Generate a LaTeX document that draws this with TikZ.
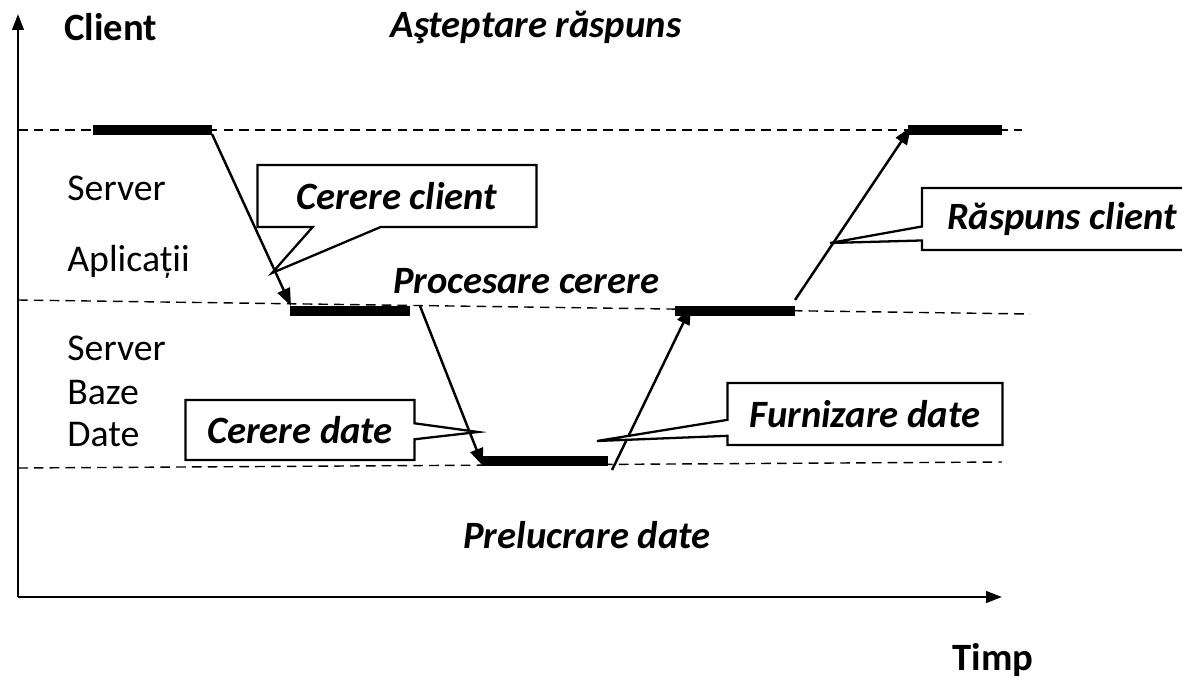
\documentclass[tikz,border=0pt]{standalone}
\usepackage{fontspec}
\setmainfont{Carlito}
\usetikzlibrary{arrows.meta, shapes.callouts, positioning}

\begin{document}
\begin{tikzpicture}[
            x=0.02cm, y=-0.02cm,
            lane/.style={line width=0.8pt, dash pattern=on 5.5pt off 3.5pt},
            busy/.style={line width=6pt},
            msg/.style={-{Triangle[length=10pt, width=7.5pt]}, line width=1.4pt},
            axis/.style={-{Triangle[length=9pt, width=6.5pt]}, line width=1.4pt},
            note/.style={rectangle callout, draw, fill=white, line width=1.3pt,
                inner sep=0pt, font=\fontsize{22}{26}\selectfont\bfseries\itshape},
            lbl/.style={anchor=west, inner sep=0pt, font=\fontsize{21.5}{26}\selectfont},
            ttl/.style={inner sep=0pt, font=\fontsize{22}{26}\selectfont\bfseries\itshape}
        ]
        \clip (0, 0) rectangle (1182, 682);

        % axes
        \coordinate (o) at (18, 597);
        \coordinate (top) at (18, 14);
        \coordinate (right) at (1002, 597);
        \draw[axis] (o) -- (top);
        \draw[axis] (o) -- (right);

        % levels
        \draw[lane] (18, 130) -- (1022, 130);
        \draw[lane] (18, 300) -- (1030, 314);
        \draw[lane] (18, 468) -- (1002, 462);

        % busy periods
        \coordinate (c1a) at (93, 130);  \coordinate (c1b) at (212, 130);
        \coordinate (c2a) at (908, 130); \coordinate (c2b) at (1002, 130);
        \coordinate (a1a) at (290, 311); \coordinate (a1b) at (410, 311);
        \coordinate (a2a) at (675, 311); \coordinate (a2b) at (795, 311);
        \coordinate (d1a) at (483, 461); \coordinate (d1b) at (608, 461);
        \foreach \p in {c1, c2, a1, a2, d1}
            \draw[busy] (\p a) -- (\p b);

        % messages
        \coordinate (m1s) at (212, 134); \coordinate (m1e) at (291, 306);
        \coordinate (m2s) at (420, 306); \coordinate (m2e) at (483, 466);
        \coordinate (m3s) at (612, 470); \coordinate (m3e) at (691, 307);
        \coordinate (m4s) at (795, 300); \coordinate (m4e) at (911, 127);
        \draw[msg] (m1s) -- (m1e);
        \draw[msg] (m2s) -- (m2e);
        \draw[msg] (m3s) -- (m3e);
        \draw[msg] (m4s) -- (m4e);

        % callouts
        \node (cc) at (397, 196)[note, minimum width=5.58cm, minimum height=1.24cm,
            callout absolute pointer={(272, 273)}, callout pointer width=1.36cm] {Cerere client};
        \node (rc) at (1062, 219)[note, minimum width=5.6cm, minimum height=1.24cm,
            callout absolute pointer={(830, 243)}, callout pointer width=0.28cm] {Răspuns client\hspace{0.56cm}};
        \node (cd) at (300, 430)[note, minimum width=4.58cm, minimum height=1.2cm,
            callout absolute pointer={(478, 432)}, callout pointer width=0.32cm] {Cerere date};
        \node (fd) at (865, 414)[note, minimum width=5.5cm, minimum height=1.24cm,
            callout absolute pointer={(597, 441)}, callout pointer width=0.32cm] {Furnizare date};

        % labels
        \node (client) at (64, 27)[lbl, font=\fontsize{22}{26}\selectfont\bfseries] {Client};
        \node (wait) at (536, 27)[ttl] {Aşteptare răspuns};
        \node (srv1) at (67, 188)[lbl] {Server};
        \node (app) at (67, 262)[lbl] {Aplicații};
        \node (srv2) at (67, 348)[lbl] {Server};
        \node (baze) at (67, 393)[lbl] {Baze};
        \node (date) at (67, 435)[lbl] {Date};
        \node (proc) at (526, 281)[ttl] {Procesare cerere};
        \node (prel) at (587, 535)[ttl] {Prelucrare date};
        \node (timp) at (993, 660)[inner sep=0pt, font=\fontsize{22}{26}\selectfont\bfseries] {Timp};
    \end{tikzpicture}
\end{document}
